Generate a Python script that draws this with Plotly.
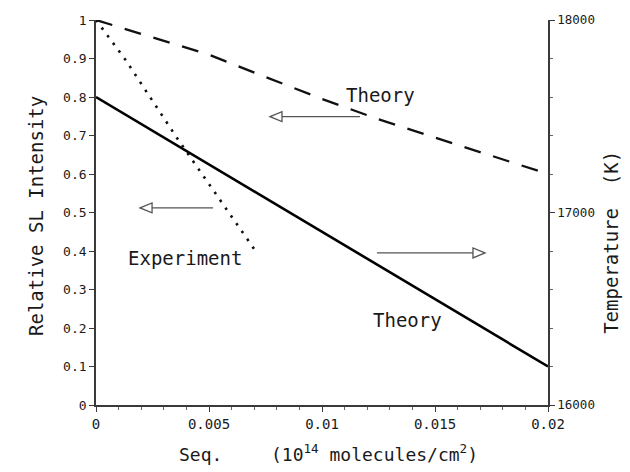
import plotly.graph_objects as go

# Surface coverage (10^14 molecules/cm^2)
seq_theory = [0, 0.0025, 0.005, 0.0075, 0.01, 0.0125, 0.015, 0.0175, 0.02]
# Relative SL intensity, theory (dashed, left axis)
sl_theory = [1.0, 0.956, 0.910, 0.852, 0.795, 0.742, 0.694, 0.648, 0.600]

# Relative SL intensity, experiment (dotted, left axis)
seq_exp = [0, 0.0013, 0.0036, 0.0070]
sl_exp = [1.0, 0.897, 0.692, 0.405]

# Temperature, theory (solid, right axis)
seq_temp = [0, 0.01, 0.02]
temp_theory = [17600, 16900, 16200]

x_ticks = [0, 0.005, 0.01, 0.015, 0.02]
x_ticktext = ["0", "0.005", "0.01", "0.015", "0.02"]
y_ticks = [0, 0.1, 0.2, 0.3, 0.4, 0.5, 0.6, 0.7, 0.8, 0.9, 1]
y_ticktext = ["0", "0.1", "0.2", "0.3", "0.4", "0.5", "0.6", "0.7",
              "0.8", "0.9", "1"]
t_ticks = [16000, 17000, 18000]
t_ticktext = ["16000", "17000", "18000"]

FONT = "DejaVu Sans Mono"
INK = "#1a1a1a"
AX = "#3a3a3a"

fig = go.Figure()

fig.add_trace(go.Scatter(
    x=seq_theory, y=sl_theory, mode="lines",
    line=dict(color="#111111", width=2.3, dash="17px,13px"),
    showlegend=False, hoverinfo="skip"))

fig.add_trace(go.Scatter(
    x=seq_exp, y=sl_exp, mode="lines",
    line=dict(color="#111111", width=2.6, dash="2.5px,7px"),
    showlegend=False, hoverinfo="skip"))

fig.add_trace(go.Scatter(
    x=seq_temp, y=temp_theory, mode="lines", yaxis="y2",
    line=dict(color="#000000", width=2.6),
    showlegend=False, hoverinfo="skip"))


def arrow(x_tail, x_tip, y, direction):
    """Thin arrow with an open triangular head, in data coordinates."""
    head_len = 0.00053
    half_h = 0.013
    base = x_tip + head_len if direction < 0 else x_tip - head_len
    fig.add_shape(type="line", xref="x", yref="y",
                  x0=x_tail, x1=base, y0=y, y1=y,
                  line=dict(color="#555555", width=1.3))
    path = (f"M {x_tip},{y} L {base},{y + half_h} "
            f"L {base},{y - half_h} Z")
    fig.add_shape(type="path", xref="x", yref="y", path=path,
                  fillcolor="white", line=dict(color="#555555", width=1.3))


arrow(0.01168, 0.0077, 0.749, -1)
arrow(0.00518, 0.00195, 0.512, -1)
arrow(0.01243, 0.01721, 0.395, +1)

labels = [
    ("Theory", 0.01261, 0.806),
    ("Experiment", 0.00394, 0.382),
    ("Theory", 0.0138, 0.220),
]
for text, x, y in labels:
    fig.add_annotation(text=text, x=x, y=y, xref="x", yref="y",
                       xanchor="center", yanchor="middle",
                       showarrow=False,
                       font=dict(family=FONT, size=19, color=INK))


def px_x(px):
    return (px - 96) / 452


def px_y(py):
    return (405 - py) / 387


# Axis titles
fig.add_annotation(text="Relative SL Intensity", xref="paper", yref="paper",
                   x=px_x(36), y=px_y(215), textangle=-90, showarrow=False,
                   xanchor="center", yanchor="middle",
                   font=dict(family=FONT, size=19, color=INK))
fig.add_annotation(text="Temperature  (K)", xref="paper", yref="paper",
                   x=px_x(611), y=px_y(242), textangle=-90, showarrow=False,
                   xanchor="center", yanchor="middle",
                   font=dict(family=FONT, size=19, color=INK))
fig.add_annotation(text="Seq.", xref="paper", yref="paper",
                   x=px_x(200), y=px_y(455), showarrow=False,
                   xanchor="center", yanchor="middle",
                   font=dict(family=FONT, size=18, color=INK))
fig.add_annotation(text="(10<sup>14</sup> molecules/cm<sup>2</sup>)",
                   xref="paper", yref="paper",
                   x=px_x(374), y=px_y(453), showarrow=False,
                   xanchor="center", yanchor="middle",
                   font=dict(family=FONT, size=18, color=INK))

fig.update_layout(
    width=630, height=472,
    margin=dict(l=96, r=82, t=18, b=67),
    paper_bgcolor="white", plot_bgcolor="white",
    font=dict(family=FONT, color=INK),
    xaxis=dict(
        range=[0, 0.02], tickvals=x_ticks, ticktext=x_ticktext,
        showgrid=False, zeroline=False,
        showline=True, linecolor=AX, linewidth=1.5,
        ticks="outside", ticklen=5, tickcolor=AX, tickwidth=1.2,
        minor=dict(dtick=0.001, ticks="outside", ticklen=3,
                   tickcolor="#666666", tickwidth=1),
        tickfont=dict(family=FONT, size=14, color=INK),
    ),
    yaxis=dict(
        range=[0, 1], tickvals=y_ticks, ticktext=y_ticktext,
        showgrid=False, zeroline=False,
        showline=True, linecolor=AX, linewidth=1.6,
        ticks="outside", ticklen=5, tickcolor=AX, tickwidth=1.2,
        tickfont=dict(family=FONT, size=13, color=INK),
    ),
    yaxis2=dict(
        range=[16000, 18000], tickvals=t_ticks, ticktext=t_ticktext,
        overlaying="y", side="right", anchor="x",
        showgrid=False, zeroline=False,
        showline=True, linecolor=AX, linewidth=1.6,
        ticks="outside", ticklen=5, tickcolor=AX, tickwidth=1.2,
        minor=dict(dtick=200, ticks="outside", ticklen=3,
                   tickcolor="#666666", tickwidth=1),
        tickfont=dict(family=FONT, size=12.5, color=INK),
    ),
)

fig.write_html("out.html")
